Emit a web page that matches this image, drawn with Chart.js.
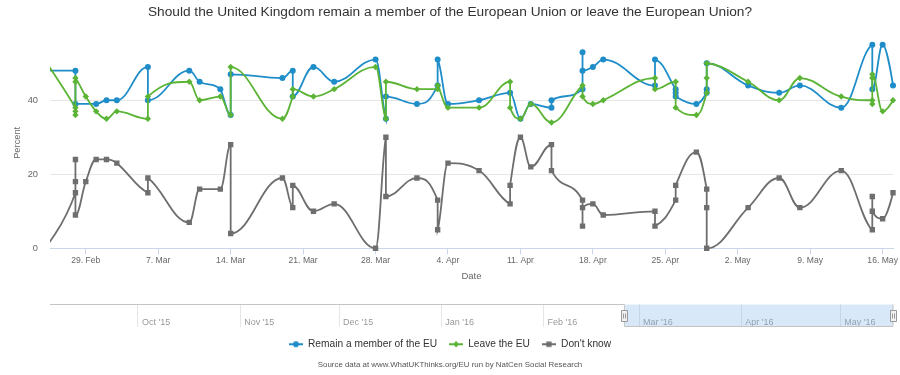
<!DOCTYPE html>
<html>
<head>
<meta charset="utf-8">
<title>EU referendum polls</title>
<script src="https://cdn.jsdelivr.net/npm/chart.js@4.4.1/dist/chart.umd.min.js"></script>
<style>
  html, body { margin: 0; padding: 0; background: #fff; }
  #wrap { position: relative; width: 900px; height: 375px; overflow: hidden; }
  #main { position: absolute; left: 0; top: 0; }
  #nav { position: absolute; left: 0; top: 290px; }
</style>
</head>
<body>
<div id="wrap">
  <canvas id="main" width="900" height="290"></canvas>
  <canvas id="nav" width="900" height="85"></canvas>
</div>
<script>
// === 1. Poll data (fieldwork date, percent) ===
const remain = [
  ["2016-02-25", 48], ["2016-02-28", 48], ["2016-02-28", 39], ["2016-03-01", 39],
  ["2016-03-02", 40], ["2016-03-03", 40], ["2016-03-06", 49], ["2016-03-06", 40],
  ["2016-03-10", 48], ["2016-03-11", 45], ["2016-03-13", 43], ["2016-03-14", 36],
  ["2016-03-14", 47], ["2016-03-19", 46], ["2016-03-20", 48], ["2016-03-20", 41],
  ["2016-03-22", 49], ["2016-03-24", 45], ["2016-03-28", 51], ["2016-03-29", 35],
  ["2016-03-29", 41], ["2016-04-01", 39], ["2016-04-03", 44], ["2016-04-03", 51],
  ["2016-04-04", 39], ["2016-04-07", 40], ["2016-04-10", 42], ["2016-04-11", 35],
  ["2016-04-12", 39], ["2016-04-14", 38], ["2016-04-14", 40], ["2016-04-17", 43],
  ["2016-04-17", 53], ["2016-04-17", 48], ["2016-04-18", 49], ["2016-04-19", 51],
  ["2016-04-24", 44], ["2016-04-24", 51], ["2016-04-26", 43], ["2016-04-26", 42],
  ["2016-04-26", 41], ["2016-04-28", 39], ["2016-04-29", 42], ["2016-04-29", 43],
  ["2016-04-29", 50], ["2016-05-03", 44], ["2016-05-06", 42], ["2016-05-08", 44],
  ["2016-05-12", 38], ["2016-05-15", 55], ["2016-05-15", 43], ["2016-05-16", 55],
  ["2016-05-17", 44]
];

const leave = [
  ["2016-02-25", 51], ["2016-02-28", 38], ["2016-02-28", 37], ["2016-02-28", 36],
  ["2016-02-28", 45], ["2016-02-28", 46], ["2016-02-29", 41], ["2016-03-01", 37],
  ["2016-03-02", 35], ["2016-03-03", 37], ["2016-03-06", 35], ["2016-03-06", 41],
  ["2016-03-10", 45], ["2016-03-11", 40], ["2016-03-13", 41], ["2016-03-14", 36],
  ["2016-03-14", 49], ["2016-03-19", 35], ["2016-03-20", 41], ["2016-03-20", 43],
  ["2016-03-22", 41], ["2016-03-24", 43], ["2016-03-28", 49], ["2016-03-29", 35],
  ["2016-03-29", 45], ["2016-04-01", 43], ["2016-04-03", 43], ["2016-04-03", 44],
  ["2016-04-04", 38], ["2016-04-07", 38], ["2016-04-10", 45], ["2016-04-10", 38],
  ["2016-04-11", 35], ["2016-04-12", 39], ["2016-04-14", 34], ["2016-04-17", 44],
  ["2016-04-17", 41], ["2016-04-18", 39], ["2016-04-19", 40], ["2016-04-24", 46],
  ["2016-04-24", 43], ["2016-04-26", 45], ["2016-04-26", 38], ["2016-04-28", 36],
  ["2016-04-29", 42], ["2016-04-29", 46], ["2016-04-29", 50], ["2016-05-03", 45],
  ["2016-05-06", 40], ["2016-05-08", 46], ["2016-05-12", 41], ["2016-05-15", 40],
  ["2016-05-15", 39], ["2016-05-15", 46], ["2016-05-15", 47], ["2016-05-16", 37],
  ["2016-05-17", 40]
];

const dontKnow = [
  ["2016-02-25", 0], ["2016-02-28", 15], ["2016-02-28", 24], ["2016-02-28", 18],
  ["2016-02-28", 9], ["2016-02-29", 18], ["2016-03-01", 24], ["2016-03-02", 24],
  ["2016-03-03", 23], ["2016-03-06", 15], ["2016-03-06", 19], ["2016-03-10", 7],
  ["2016-03-11", 16], ["2016-03-13", 16], ["2016-03-14", 28], ["2016-03-14", 4],
  ["2016-03-19", 19], ["2016-03-20", 11], ["2016-03-20", 17], ["2016-03-22", 10],
  ["2016-03-24", 12], ["2016-03-28", 0], ["2016-03-29", 30], ["2016-03-29", 14],
  ["2016-04-01", 19], ["2016-04-03", 13], ["2016-04-03", 5], ["2016-04-04", 23],
  ["2016-04-07", 21], ["2016-04-10", 12], ["2016-04-10", 17], ["2016-04-11", 30],
  ["2016-04-12", 22], ["2016-04-14", 28], ["2016-04-14", 21], ["2016-04-17", 13],
  ["2016-04-17", 6], ["2016-04-17", 11], ["2016-04-18", 12], ["2016-04-19", 9],
  ["2016-04-24", 10], ["2016-04-24", 6], ["2016-04-26", 13], ["2016-04-26", 17],
  ["2016-04-28", 26], ["2016-04-29", 16], ["2016-04-29", 11], ["2016-04-29", 0],
  ["2016-05-03", 11], ["2016-05-06", 19], ["2016-05-08", 11], ["2016-05-12", 21],
  ["2016-05-15", 5], ["2016-05-15", 14], ["2016-05-15", 10], ["2016-05-16", 8],
  ["2016-05-17", 15]
];

// === 2. Axis ticks and ranges ===
const weekTicks = [
  "2016-02-29", "2016-03-07", "2016-03-14", "2016-03-21", "2016-03-28", "2016-04-04",
  "2016-04-11", "2016-04-18", "2016-04-25", "2016-05-02", "2016-05-09", "2016-05-16"
];
const navMonths = [
  "2015-10-01", "2015-11-01", "2015-12-01", "2016-01-01",
  "2016-02-01", "2016-03-01", "2016-04-01", "2016-05-01"
];
const percentTicks = [0, 20, 40];
const viewStart = "2016-02-25T13:00:00Z";
const viewEnd = "2016-05-17";
const navStart = "2015-09-04T08:00:00Z";

const TITLE = "Should the United Kingdom remain a member of the European Union or leave the European Union?";
const SOURCE = "Source data at www.WhatUKThinks.org/EU run by NatCen Social Research";

document.addEventListener("DOMContentLoaded", () => {
  const FONT = "'Liberation Sans', Arial, Helvetica, sans-serif";
  const MONTHS = ["Jan", "Feb", "Mar", "Apr", "May", "Jun", "Jul", "Aug", "Sep", "Oct", "Nov", "Dec"];
  const DAY = 864e5;
  const BASE = Date.UTC(2016, 1, 29);
  const toDay = (s) => (Date.parse(s) - BASE) / DAY;
  const dateOf = (v) => new Date(BASE + Math.round(v) * DAY);

  const series = [
    { label: "Remain a member of the EU", points: remain, color: "#1f8dc8", pointStyle: "circle", radius: 3, order: 3 },
    { label: "Leave the EU", points: leave, color: "#5bb435", pointStyle: "rectRot", radius: 3.2, order: 2 },
    { label: "Don't know", points: dontKnow, color: "#6e6e6e", pointStyle: "rect", radius: 3.8, order: 1 }
  ];

  // fixed-width side boxes so plot spans 50..893 while titles stay centred on the page
  const sideAxis = (pos, w) => ({
    position: pos, display: true,
    afterFit: (s) => { s.width = w; },
    ticks: { display: false }, grid: { display: false }, border: { display: false }
  });

  // === 3. Spline control points, smoothing like the original chart ===
  const smoothSpline = {
    id: "smoothSpline",
    beforeDatasetDraw(chart, args) {
      const line = args.meta.dataset;
      if (!line) return;
      line.updateControlPoints(chart.chartArea);
      const pts = args.meta.data;
      const k = 1.5, den = k + 1;
      pts.forEach((p, i) => {
        const last = pts[i - 1], next = pts[i + 1];
        p.cp1x = p.cp2x = p.x;
        p.cp1y = p.cp2y = p.y;
        if (!last || !next) return;
        const lx = (k * p.x + last.x) / den;
        let ly = (k * p.y + last.y) / den;
        const rx = (k * p.x + next.x) / den;
        let ry = (k * p.y + next.y) / den;
        let corr = 0;
        if (rx !== lx) corr = ((ry - ly) * (rx - p.x)) / (rx - lx) + p.y - ry;
        ly += corr; ry += corr;
        if (ly > last.y && ly > p.y) { ly = Math.max(last.y, p.y); ry = 2 * p.y - ly; }
        else if (ly < last.y && ly < p.y) { ly = Math.min(last.y, p.y); ry = 2 * p.y - ly; }
        if (ry > next.y && ry > p.y) { ry = Math.max(next.y, p.y); ly = 2 * p.y - ry; }
        else if (ry < next.y && ry < p.y) { ry = Math.min(next.y, p.y); ly = 2 * p.y - ry; }
        p.cp1x = lx; p.cp1y = ly;
        p.cp2x = rx; p.cp2y = ry;
      });
    }
  };

  // === 4. Main chart ===
  new Chart(document.getElementById("main"), {
    type: "line",
    data: {
      datasets: series.map((s) => ({
        label: s.label,
        data: s.points.map(([d, v]) => ({ x: toDay(d), y: v })),
        borderColor: s.color,
        backgroundColor: s.color,
        borderWidth: 1.8,
        tension: 0.4,
        pointStyle: s.pointStyle,
        pointRadius: s.radius,
        pointBorderWidth: 0,
        clip: { left: 0, top: 6, right: 6, bottom: 5 },
        order: s.order
      }))
    },
    options: {
      responsive: false,
      animation: false,
      events: [],
      layout: { padding: { left: 0, right: 0, top: 0, bottom: 5.7 } },
      plugins: {
        legend: { display: false },
        tooltip: { enabled: false },
        title: {
          display: true, text: TITLE, color: "#333333",
          font: { family: FONT, size: 13.7, weight: "normal" },
          padding: { top: 4.4, bottom: 16.5 }
        }
      },
      scales: {
        x: {
          type: "linear",
          min: toDay(viewStart),
          max: toDay(viewEnd),
          afterBuildTicks: (s) => { s.ticks = weekTicks.map((d) => ({ value: toDay(d) })); },
          afterFit: (s) => { s.height = 36; },
          ticks: {
            autoSkip: false, maxRotation: 0, padding: 1.5, color: "#666666",
            font: { family: FONT, size: 8.6 },
            callback: (v) => { const d = dateOf(v); return d.getUTCDate() + ". " + MONTHS[d.getUTCMonth()]; }
          },
          grid: { drawOnChartArea: false, tickLength: 6, color: "#ccd6eb" },
          border: { color: "#ccd6eb" },
          title: {
            display: true, text: "Date", color: "#666666",
            font: { family: FONT, size: 9.5 }, padding: { top: 0, bottom: 2.6 }
          }
        },
        y: {
          min: 0,
          max: 57,
          afterBuildTicks: (s) => { s.ticks = percentTicks.map((v) => ({ value: v })); },
          afterFit: (s) => { s.width = 50; },
          ticks: { padding: 12, color: "#666666", font: { family: FONT, size: 9.3 } },
          grid: { color: "#e6e6e6", drawTicks: false },
          border: { display: false },
          title: {
            display: true, text: "Percent", color: "#666666",
            font: { family: FONT, size: 9.3 }, padding: { top: 11.4, bottom: 0 }
          }
        },
        yRight: sideAxis("right", 7)
      }
    },
    plugins: [smoothSpline]
  });

  // === 5. Legend symbols: line with marker ===
  const legendSymbol = (s) => {
    const c = document.createElement("canvas");
    c.width = 14; c.height = 8;
    const g = c.getContext("2d");
    g.strokeStyle = s.color; g.lineWidth = 2;
    g.beginPath(); g.moveTo(0, 4); g.lineTo(14, 4); g.stroke();
    g.fillStyle = s.color;
    Chart.helpers.drawPoint(g, { pointStyle: s.pointStyle, radius: s.radius, rotation: 0, borderWidth: 0 }, 7, 4);
    return c;
  };

  // === 6. Navigator mask, outline and handles ===
  const navigatorMask = {
    id: "navigatorMask",
    afterDraw(chart) {
      const { ctx, chartArea: a, scales: { x } } = chart;
      const x0 = x.getPixelForValue(toDay(viewStart));
      const x1 = x.getPixelForValue(toDay(viewEnd));
      const t = Math.round(a.top) + 0.5, b = Math.round(a.bottom) - 0.5;
      ctx.save();
      ctx.fillStyle = "rgba(128,179,236,0.3)";
      ctx.fillRect(x0, t, x1 - x0, b - t);
      ctx.strokeStyle = "#c4c4c4";
      ctx.lineWidth = 1;
      ctx.beginPath();
      ctx.moveTo(a.left, t); ctx.lineTo(x0, t); ctx.lineTo(x0, b);
      ctx.lineTo(x1, b); ctx.lineTo(x1, t); ctx.lineTo(a.right, t);
      ctx.stroke();
      const cy = (t + b) / 2;
      [x0, x1].forEach((hx) => {
        const l = Math.round(hx - 3) + 0.5, top = Math.round(cy - 5.5) + 0.5;
        ctx.fillStyle = "#f2f2f2";
        ctx.strokeStyle = "#999999";
        ctx.beginPath();
        ctx.rect(l, top, 6, 11);
        ctx.fill(); ctx.stroke();
        ctx.beginPath();
        ctx.moveTo(l + 2, top + 3); ctx.lineTo(l + 2, top + 8);
        ctx.moveTo(l + 4, top + 3); ctx.lineTo(l + 4, top + 8);
        ctx.stroke();
      });
      ctx.restore();
    }
  };

  // === 7. Navigator, legend and source ===
  new Chart(document.getElementById("nav"), {
    type: "line",
    data: {
      datasets: series.map((s) => ({
        label: s.label, data: [], borderColor: s.color, backgroundColor: s.color,
        pointStyle: legendSymbol(s)
      }))
    },
    options: {
      responsive: false,
      animation: false,
      events: [],
      layout: { padding: { left: 0, right: 0, top: 14.3, bottom: 5.4 } },
      plugins: {
        tooltip: { enabled: false },
        legend: {
          position: "bottom",
          labels: {
            usePointStyle: true, pointStyleWidth: 14, padding: 12, color: "#333333",
            font: { family: FONT, size: 10.2, weight: "normal" }
          }
        },
        subtitle: {
          display: true, position: "bottom", text: SOURCE, color: "#555555",
          font: { family: FONT, size: 7.9 }, padding: { top: 0.8, bottom: 0 }
        }
      },
      scales: {
        x: {
          type: "linear",
          min: toDay(navStart),
          max: toDay(viewEnd),
          afterBuildTicks: (s) => { s.ticks = navMonths.map((d) => ({ value: toDay(d) })); },
          afterFit: (s) => { s.height = 0; },
          ticks: {
            autoSkip: false, maxRotation: 0, align: "start", labelOffset: 4,
            mirror: true, padding: -0.9,
            color: "#999999", font: { family: FONT, size: 9 },
            callback: (v) => { const d = dateOf(v); return MONTHS[d.getUTCMonth()] + " '" + String(d.getUTCFullYear()).slice(2); }
          },
          grid: { drawTicks: false, color: "#e6e6e6" },
          border: { display: false }
        },
        y: Object.assign(sideAxis("left", 50), { min: 0, max: 1 }),
        yRight: sideAxis("right", 7)
      }
    },
    plugins: [navigatorMask]
  });
});
</script>
</body>
</html>
